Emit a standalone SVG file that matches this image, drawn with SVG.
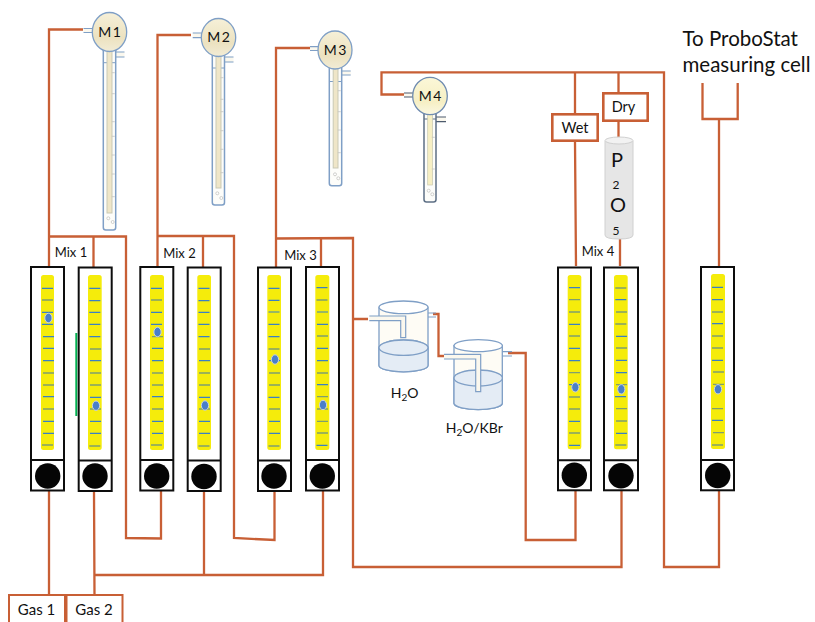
<svg xmlns="http://www.w3.org/2000/svg" width="815" height="622" viewBox="0 0 815 622">
<defs>
<linearGradient id="bulb" x1="0" y1="0" x2="0" y2="1"><stop offset="0" stop-color="#f6f0d8"/><stop offset="0.65" stop-color="#ece2c0"/><stop offset="1" stop-color="#f2ecd6"/></linearGradient>
<linearGradient id="bulb4" x1="0" y1="0" x2="0" y2="1"><stop offset="0" stop-color="#fbf7d8"/><stop offset="0.65" stop-color="#f6efc4"/><stop offset="1" stop-color="#fbf8e2"/></linearGradient>
</defs>
<style>
text{font-family:Lato,"Liberation Sans",sans-serif;fill:#111}
.m{word-spacing:-2px}
.c{fill:none;stroke:#c85f35;stroke-width:2.300}
.box{fill:#fff;stroke:#0d0d0d;stroke-width:2}
.y{fill:#f5ec0b}
.k{fill:#050505}
.b{fill:none;stroke:#3a80c4;stroke-width:1.200}
.g{fill:none;stroke:#7f9f70;stroke-width:1.300}
.f{fill:#4a7fc8;stroke:#c9d3e6;stroke-width:1}
.o{fill:#fdfdfa;stroke:#7f9fc6;stroke-width:1.500}
.o4{fill:#fdfdfa;stroke:#5d6f85;stroke-width:1.500}
.i{fill:#efe6c8;stroke:#c9c9b5;stroke-width:1}
.d{fill:#fff;stroke:#c4c4c0;stroke-width:.8}
.w{fill:#e4ecf5;stroke:#7f9fc6;stroke-width:1.300}
.gl{fill:#fefcf5;stroke:#7f9fc6;stroke-width:1.300}
.t{fill:#fbf8ee;stroke:#7f9fc6;stroke-width:1.200}
.l{fill:#fff;stroke:#c85f35;stroke-width:2}
.l3{fill:#fff;stroke:#c85f35;stroke-width:2.600}
</style>
<g id="connectors">
<path class="c" d="M49 491V595M94 491L94.500 595M95 575H323V491M204 491V575"/>
<path class="c" d="M49 266V29.500H83M49 236.500H126V538L161 538.500V491M93.500 237V267"/>
<path class="c" d="M157.500 266V35H191M157.500 236H234V538L274.500 540V491M203 236V267"/>
<path class="c" d="M276 267V48H311M276 238.500L353 238V567H621.500V491M321 238V266"/>
<path class="c" d="M353 319H368M433 314H438.500V356H444M508 353H525.700V540H575.500V491"/>
<path class="c" d="M405 94.500H381.500V72.300H664V567H719V491"/>
<path class="c" d="M575 72V113M575 142L576 266M618.500 72V92M618.500 122V139M620 239V266"/>
<path class="c" d="M702.500 83V119H737.700V83M719 119V266"/>
<path d="M76.300 333V416" fill="none" stroke="#00b050" stroke-width="2"/>
</g>
<g id="m1">
<path class="t" d="M83.500 28.500H95V32.500H83.500M124.500 52H115V57H124.500"/>
<rect class="o" x="103.300" y="48" width="12.400" height="182" rx="2.500"/>
<path d="M103.300 62.700H115.700" stroke="#7f9fc6" fill="none"/>
<rect class="i" x="107" y="48" width="5" height="165"/>
<ellipse cx="109.500" cy="32" rx="17.200" ry="19.500" fill="url(#bulb)" stroke="#7f9fc6" stroke-width="1.300"/>
<path class="d" d="M111.800 72.700h3M111.800 93.700h3M111.800 121.700h3M111.800 136.300h3M111.800 155h3M111.800 174h3M111.800 196.700h3"/>
<circle class="d" cx="108.300" cy="218.300" r="1.500"/><circle class="d" cx="112.700" cy="222" r="1.500"/>
<text class="m" x="109.500" y="36.500" text-anchor="middle" font-size="14">M 1</text>
</g>
<g id="m2">
<path class="t" d="M192.700 33H204V37.700H192.700M233.500 57H224V62H233.500"/>
<rect class="o" x="212.300" y="53" width="12.200" height="152" rx="2.500"/>
<path d="M212.300 68H224.500" stroke="#7f9fc6" fill="none"/>
<rect class="i" x="216" y="53" width="5" height="135"/>
<ellipse cx="218.500" cy="37.500" rx="17.200" ry="19" fill="url(#bulb)" stroke="#7f9fc6" stroke-width="1.300"/>
<path class="d" d="M220.500 77.700h3M220.500 99.300h3M220.500 111.700h3M220.500 130.700h3M220.500 149.300h3M220.500 172.700h3"/>
<circle class="d" cx="217.300" cy="193.300" r="1.500"/><circle class="d" cx="221.300" cy="198" r="1.500"/>
<text class="m" x="218.500" y="42" text-anchor="middle" font-size="14">M 2</text>
</g>
<g id="m3">
<path class="t" d="M310 46.700H322V50.500H310M350.700 71H341V75H350.700"/>
<rect class="o" x="329.300" y="66" width="12.400" height="119.700" rx="2.500"/>
<path d="M329.300 81.500H341.700" stroke="#7f9fc6" fill="none"/>
<rect class="i" x="333.200" y="66" width="4.800" height="102"/>
<ellipse cx="335" cy="50" rx="17" ry="19" fill="url(#bulb)" stroke="#7f9fc6" stroke-width="1.300"/>
<path class="d" d="M337.800 90.700h3M337.800 111.700h3M337.800 130h3M337.800 152.700h3"/>
<circle class="d" cx="335" cy="174.300" r="1.500"/><circle class="d" cx="338.300" cy="178.300" r="1.500"/>
<text class="m" x="335" y="55" text-anchor="middle" font-size="14">M 3</text>
</g>
<g id="m4">
<path class="t" d="M404 93H415V97H404M446 117H435V121.700H446" style="stroke:#4d5b6e"/>
<rect class="o4" x="424" y="110" width="12" height="92" rx="2.500"/>
<path d="M424 119H436" stroke="#5d6f85" fill="none"/>
<rect x="427.700" y="110" width="4.800" height="75" fill="#f6efc4" stroke="#c8c8b0" stroke-width=".7"/>
<ellipse cx="430" cy="96" rx="17.300" ry="18.700" fill="url(#bulb4)" stroke="#6f8bb0" stroke-width="1.300"/>
<path class="d" d="M431.800 137.300h3M431.800 169h3"/>
<circle class="d" cx="428.700" cy="190.700" r="1.500"/><circle class="d" cx="432.300" cy="194.300" r="1.500"/>
<text class="m" x="430" y="100.500" text-anchor="middle" font-size="14">M 4</text>
</g>
<g id="flow1">
<rect class="box" x="31" y="267" width="33" height="223.500"/><path class="box" d="M31 460H64"/>
<rect class="y" x="41" y="275" width="13" height="175" rx="2.500"/>
<path class="b" d="M42 288.300h11M42 312.300h11M42 324.300h11M43 336.700h11M43 348.300h11M43 360.700h11M43 396.700h11M43 421.300h11M43 433.300h11"/>
<path class="g" d="M42 300h11M43 373h11M43 385h11M43 409h11M42 445h11"/>
<circle class="k" cx="47.700" cy="476" r="12.700"/><ellipse class="f" cx="48.400" cy="318" rx="3.600" ry="4.700"/>
</g>
<g id="flow2">
<rect class="box" x="78.700" y="267.500" width="33" height="223.500"/><path class="box" d="M78.700 460.500H111.700"/>
<rect class="y" x="88" y="275" width="13.700" height="175" rx="2.500"/>
<path class="b" d="M89.300 288.300h11M89.300 300.700h11M89.300 312.300h11M89.300 324.300h11M89.300 336.700h11M90 360.700h11M90 397.300h11M90 421.300h11M90 433.300h11"/>
<path class="g" d="M90 349h11M90 373h11M90 385h11M90 409h11M89.300 446h11"/>
<circle class="k" cx="95" cy="476" r="12.700"/><ellipse class="f" cx="96" cy="405.700" rx="3.600" ry="4.700"/>
</g>
<g id="flow3">
<rect class="box" x="140.300" y="267" width="33" height="223.500"/><path class="box" d="M140.300 460H173.300"/>
<rect class="y" x="150" y="275" width="14" height="175" rx="2.500"/>
<path class="b" d="M151 288.300h11M151 312.300h11M151 324.300h11M152 348.300h11M152 360.700h11M152 396.700h11M152 421.300h11M152 433.300h11"/>
<path class="g" d="M151 300h11M152 336.700h11M152 373h11M152 385h11M152 409h11M151 445h11"/>
<circle class="k" cx="156.700" cy="476" r="12.700"/><ellipse class="f" cx="157.500" cy="332" rx="3.600" ry="4.700"/>
</g>
<g id="flow4">
<rect class="box" x="187.700" y="267.500" width="33" height="223.500"/><path class="box" d="M187.700 460.500H220.700"/>
<rect class="y" x="197.300" y="275" width="13.700" height="175" rx="2.500"/>
<path class="b" d="M198.500 288.300h11M198.500 300.700h11M198.500 312.300h11M198.500 324.300h11M198.500 336.700h11M199 360.700h11M199 397.300h11M199 421.300h11M199 433.300h11"/>
<path class="g" d="M199 349h11M199 373h11M199 385h11M199 409h11M198.500 446h11"/>
<circle class="k" cx="204" cy="476.500" r="12.700"/><ellipse class="f" cx="205" cy="405.500" rx="3.600" ry="4.700"/>
</g>
<g id="flow5">
<rect class="box" x="258" y="267.500" width="33" height="223.500"/><path class="box" d="M258 460.500H291"/>
<rect class="y" x="267.300" y="275" width="13.700" height="175" rx="2.500"/>
<path class="b" d="M268.500 288.300h11M268.500 300.300h11M268.500 312h11M268.500 324.300h11M268.500 336.700h11M269 360.700h11M268.500 397.300h11M269 421.300h11M269 433.300h11"/>
<path class="g" d="M268.500 349h11M269 373h11M269 385h11M269 409h11M268.500 446h11"/>
<circle class="k" cx="274" cy="476" r="12.700"/><ellipse class="f" cx="275" cy="359.500" rx="3.600" ry="4.700"/>
</g>
<g id="flow6">
<rect class="box" x="306" y="267" width="33" height="223.500"/><path class="box" d="M306 460H339"/>
<rect class="y" x="315.300" y="275" width="14" height="175" rx="2.500"/>
<path class="b" d="M316.500 287.700h11M317 312h11M317 324.300h11M317 348.300h11M317 360.700h11M317 384.700h11M316.500 445.300h11"/>
<path class="g" d="M316.500 300h11M317 336h11M317 373h11M317 396.700h11M317 409h11M317 421.300h11M317 433h11"/>
<circle class="k" cx="322.300" cy="476" r="12.700"/><ellipse class="f" cx="323" cy="405" rx="3.600" ry="4.700"/>
</g>
<g id="flow7">
<rect class="box" x="558" y="267.500" width="33" height="222.800"/><path class="box" d="M558 460.300H591"/>
<rect class="y" x="567.700" y="275" width="13.600" height="174.300" rx="2.500"/>
<path class="b" d="M569 287.700h11M569 324.300h11M569 348.300h11M569 360.700h11M569 384.700h11M569 421.300h11M569 445.300h11"/>
<path class="g" d="M569 299.700h11M569 312h11M569 336h11M569 372.700h11M569 397h11M569 409h11M569 433h11"/>
<circle class="k" cx="574.300" cy="475.300" r="12.700"/><ellipse class="f" cx="575.300" cy="387.300" rx="3.600" ry="4.700"/>
</g>
<g id="flow8">
<rect class="box" x="604" y="267.500" width="34" height="222.800"/><path class="box" d="M604 460.300H638"/>
<rect class="y" x="614" y="275" width="13.700" height="174.300" rx="2.500"/>
<path class="b" d="M615.300 299.700h11M616 336.300h11M616 360.300h11M616 372.700h11M615 396.700h11M616 433.300h11"/>
<path class="g" d="M615.300 288h11M616 312h11M615.300 324h11M616 348h11M616 384.700h11M616 408.700h11M616 421h11M615.300 445h11"/>
<circle class="k" cx="621" cy="475.700" r="12.700"/><ellipse class="f" cx="621.300" cy="389.300" rx="3.600" ry="4.700"/>
</g>
<g id="flow9">
<rect class="box" x="701" y="267" width="33" height="223.300"/><path class="box" d="M701 460H734"/>
<rect class="y" x="711" y="274" width="14" height="175" rx="2.500"/>
<path class="b" d="M712 287.300h11M712 299.700h11M712 323.700h11M712 360.300h11M712 420.300h11"/>
<path class="g" d="M712 312h11M712 336h11M712 348h11M713 372h11M713 384.300h11M712 408.700h11M713 432.700h11M712 445h11"/>
<circle class="k" cx="717.700" cy="475.500" r="12.700"/><ellipse class="f" cx="718" cy="389.300" rx="3.600" ry="4.700"/>
</g>
<g id="gas1"><rect class="l" x="9" y="595" width="56" height="40"/><text x="36.500" y="615" text-anchor="middle" font-size="15">Gas 1</text></g>
<g id="gas2"><rect class="l" x="66.500" y="595" width="56" height="40"/><text x="94" y="615" text-anchor="middle" font-size="15">Gas 2</text></g>
<g id="wet"><rect class="l3" x="552.300" y="114.300" width="45.400" height="26.400"/><text x="575" y="133" text-anchor="middle" font-size="14.500">Wet</text></g>
<g id="dry"><rect class="l3" x="603.300" y="93.300" width="44.400" height="27.400"/><text x="623.500" y="112" text-anchor="middle" font-size="14.500">Dry</text></g>
<g id="p2o5">
<path d="M605 141V235Q605 239 619 239Q633 239 633 235V141Z" fill="#e6e6e6" stroke="#d0d0d0"/>
<ellipse cx="619" cy="140.500" rx="14" ry="3.500" fill="#f2f2f2" stroke="#d0d0d0"/>
<text x="617" y="166.700" text-anchor="middle" font-size="20">P</text>
<text x="616" y="188.500" text-anchor="middle" font-size="12">2</text>
<text x="618" y="211.700" text-anchor="middle" font-size="20">O</text>
<text x="616" y="235" text-anchor="middle" font-size="12">5</text>
</g>
<g id="water">
<path class="gl" d="M379 307.300V365.500A24.500 6.300 0 0 0 428 365.500V307.300Z"/>
<path class="w" d="M379 347.700V365.500A24.500 6.300 0 0 0 428 365.500V347.700A24.500 7.700 0 0 0 379 347.700Z"/>
<ellipse class="w" cx="403.500" cy="347.700" rx="24.500" ry="7.700"/>
<ellipse cx="403.500" cy="307.300" rx="24.500" ry="6.300" fill="#fff" stroke="#7f9fc6" stroke-width="1.300"/>
<path class="t" d="M369.300 316H405.700V337.700H400.700V320.700H369.300"/>
<path class="t" d="M428 313H436M428 317H436"/>
<text x="390.700" y="398" font-size="14">H<tspan font-size="10" dy="3">2</tspan><tspan dy="-3">O</tspan></text>
</g>
<g id="kbr">
<path class="gl" d="M454 345.700V403.500A24.200 6.500 0 0 0 502.300 403.500V345.700Z"/>
<path class="w" d="M454 378V403.500A24.200 6.500 0 0 0 502.300 403.500V378A24.200 8 0 0 0 454 378Z"/>
<ellipse class="w" cx="478.200" cy="378" rx="24.200" ry="8"/>
<ellipse cx="478.200" cy="345.700" rx="24.200" ry="6" fill="#fff" stroke="#7f9fc6" stroke-width="1.300"/>
<path class="t" d="M444 354.300H480.700V391.700H475.700V359H444"/>
<path class="t" d="M502 351.700H512M502 356H512"/>
<text x="445.700" y="433" font-size="14">H<tspan font-size="10" dy="3">2</tspan><tspan dy="-3">O/KBr</tspan></text>
</g>
<g id="labels">
<text x="71" y="257" text-anchor="middle" font-size="13">Mix 1</text>
<text x="179.500" y="258" text-anchor="middle" font-size="13">Mix 2</text>
<text x="300.500" y="260" text-anchor="middle" font-size="13">Mix 3</text>
<text x="598" y="256" text-anchor="middle" font-size="13">Mix 4</text>
<text x="682.500" y="46" font-size="20.500">To ProboStat</text>
<text x="682.500" y="72" font-size="20.500">measuring cell</text>
</g>
</svg>
